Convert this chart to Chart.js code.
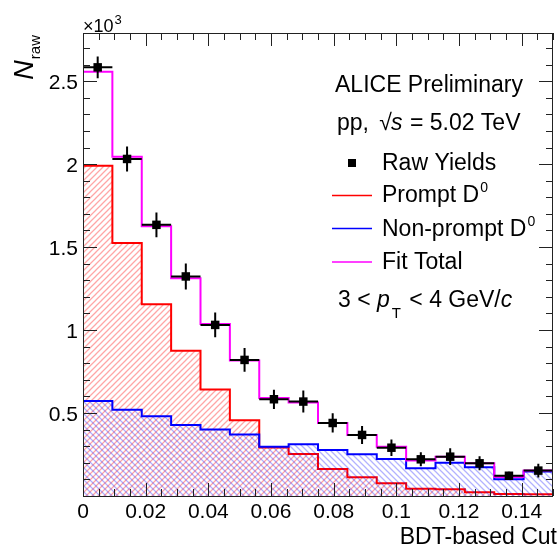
<!DOCTYPE html>
<html>
<head>
<meta charset="utf-8">
<script src="https://cdn.jsdelivr.net/npm/chart.js@4.4.0/dist/chart.umd.min.js"></script>
<style>
  html, body { margin: 0; padding: 0; background: #fff; }
  #wrap { width: 559px; height: 546px; position: relative; }
</style>
</head>
<body>
<div id="wrap"><canvas id="chart" width="559" height="546"></canvas></div>
<script>
// BDT-based cut bins: 16 equal bins between 0 and 0.15
const xMin = 0, xMax = 0.15, nBins = 16;
const rawYields   = [2583, 2031, 1634, 1323, 1031, 820, 583, 569, 440, 368, 291, 221, 237, 197, 122, 153];
const rawErrors   = [65, 75, 75, 78, 75, 72, 58, 66, 58, 54, 50, 42, 50, 42, 24, 42];
const promptD0    = [1990, 1525, 1156, 876, 642, 456, 292, 253, 163, 113, 77, 44, 40, 22, 12, 10];
const nonPromptD0 = [572, 520, 480, 428, 400, 370, 297, 312, 277, 251, 223, 167, 201, 173, 101, 147];
const fitTotal    = [2556, 2044, 1626, 1312, 1036, 816, 590, 563, 440, 368, 297, 214, 237, 197, 114, 153];
const xTicks = [0, 0.02, 0.04, 0.06, 0.08, 0.1, 0.12, 0.14];
const yTicks = [500, 1000, 1500, 2000, 2500];
const yMax = 2790;

const FONT = '"Liberation Sans", Arial, Helvetica, sans-serif';
const binW = (xMax - xMin) / nBins;
const binLow = i => xMin + i * binW;

// histogram as step line: point at each lower edge, plus closing point at xMax
function histPoints(vals) {
  const pts = vals.map((v, i) => ({ x: binLow(i), y: v }));
  pts.push({ x: xMax, y: vals[vals.length - 1] });
  return pts;
}

// hatch tile, "/" when up is true, "\" otherwise
function hatch(color, up) {
  const s = 6;
  const c = document.createElement('canvas');
  c.width = s; c.height = s;
  const g = c.getContext('2d');
  g.strokeStyle = color;
  g.lineWidth = 1.3;
  g.beginPath();
  for (let k = -s; k <= s; k += s) {
    if (up) { g.moveTo(k - 1, s + 1); g.lineTo(k + s + 1, -1); }
    else { g.moveTo(k - 1, -1); g.lineTo(k + s + 1, s + 1); }
  }
  g.stroke();
  return g.createPattern(c, 'repeat');
}

// error bars for raw yields
const errorBars = {
  id: 'errorBars',
  afterDatasetsDraw(chart) {
    const { ctx, scales: { x, y } } = chart;
    ctx.save();
    ctx.strokeStyle = '#000';
    ctx.lineWidth = 2;
    rawYields.forEach((v, i) => {
      const xc = x.getPixelForValue(binLow(i) + binW / 2);
      const yc = y.getPixelForValue(v);
      ctx.beginPath();
      ctx.moveTo(x.getPixelForValue(binLow(i)), yc);
      ctx.lineTo(x.getPixelForValue(binLow(i) + binW), yc);
      ctx.moveTo(xc, y.getPixelForValue(v - rawErrors[i]));
      ctx.lineTo(xc, y.getPixelForValue(v + rawErrors[i]));
      ctx.stroke();
    });
    ctx.restore();
  }
};

// ROOT-like frame with inner ticks, axis titles and legend text
const decorations = {
  id: 'decorations',
  afterDraw(chart) {
    const { ctx, chartArea: a, scales: { x, y } } = chart;
    ctx.save();
    ctx.strokeStyle = '#222';
    ctx.lineWidth = 1;
    ctx.strokeRect(Math.round(a.left) + 0.5, Math.round(a.top) + 0.5,
                   Math.round(a.right - a.left) - 1, Math.round(a.bottom - a.top));
    ctx.beginPath();
    for (let k = 0; k <= 30; k++) {
      const v = k * 0.005;
      const px = Math.round(x.getPixelForValue(v)) + 0.5;
      const len = (k % 4 === 0) ? 13 : 7;
      ctx.moveTo(px, a.bottom); ctx.lineTo(px, a.bottom - len);
      ctx.moveTo(px, a.top); ctx.lineTo(px, a.top + len);
    }
    for (let v = 100; v < yMax; v += 100) {
      const py = Math.round(y.getPixelForValue(v)) + 0.5;
      const len = (v % 500 === 0) ? 14 : 7;
      ctx.moveTo(a.left, py); ctx.lineTo(a.left + len, py);
      ctx.moveTo(a.right, py); ctx.lineTo(a.right - len, py);
    }
    ctx.stroke();

    ctx.fillStyle = '#000';
    ctx.textAlign = 'left';
    ctx.textBaseline = 'alphabetic';

    // x10^3
    ctx.font = '18px ' + FONT;
    ctx.fillText('\u00d710', 83, 32);
    const w10 = ctx.measureText('\u00d710').width;
    ctx.font = '13px ' + FONT;
    ctx.fillText('3', 83 + w10 + 1, 24);

    // x title
    ctx.font = '23px ' + FONT;
    ctx.textAlign = 'right';
    ctx.fillText('BDT-based Cut', 557, 544);

    // y title N_raw (rotated, aligned to top)
    ctx.save();
    ctx.translate(33, 35);
    ctx.rotate(-Math.PI / 2);
    ctx.font = '15px ' + FONT;
    ctx.textAlign = 'right';
    ctx.fillText('raw', 0, 7);
    const wr = ctx.measureText('raw').width;
    ctx.font = 'italic 27px ' + FONT;
    ctx.fillText('N', -wr - 1, 0);
    ctx.restore();

    // legend and labels
    ctx.textAlign = 'left';
    const F = '23px ' + FONT;
    const FI = 'italic 23px ' + FONT;
    const FS = '14px ' + FONT;
    function seq(x0, yb, parts) {
      let xx = x0;
      parts.forEach(p => {
        ctx.font = p[1];
        ctx.fillText(p[0], xx, yb + (p[2] || 0));
        xx += ctx.measureText(p[0]).width + (p[3] || 0);
      });
    }
    seq(335, 91.5, [['ALICE Preliminary', F]]);
    seq(337, 130, [['pp, ', F, 0, 4], ['\u221a', F, 0, -1], ['s', FI, 0, 1], [' = 5.02 TeV', F]]);

    // legend markers
    ctx.fillRect(348, 159, 8, 8);
    seq(382, 170, [['Raw Yields', F]]);
    const lines = [['#ff0000', 195.5, 'Prompt D', 202.3], ['#0000ff', 228.5, 'Non-prompt D', 235.7], ['#ff00ff', 262, 'Fit Total', 269]];
    lines.forEach(l => {
      ctx.strokeStyle = l[0];
      ctx.lineWidth = 1.5;
      ctx.beginPath();
      ctx.moveTo(332, l[1]); ctx.lineTo(372, l[1]);
      ctx.stroke();
      if (l[2] === 'Fit Total') seq(382, l[3], [[l[2], F]]);
      else seq(382, l[3], [[l[2], F, 0, 1], ['0', FS, -10]]);
    });
    seq(338, 307.3, [['3 < ', F], ['p', FI, 0, 2], ['T', '15px ' + FONT, 11, 2], [' < 4 GeV/', F], ['c', FI]]);
    ctx.restore();
  }
};

const ctx = document.getElementById('chart').getContext('2d');
new Chart(ctx, {
  type: 'line',
  data: {
    datasets: [
      {
        label: 'Raw Yields',
        type: 'scatter',
        data: rawYields.map((v, i) => ({ x: binLow(i) + binW / 2, y: v })),
        pointStyle: 'rect',
        pointRadius: 6,
        backgroundColor: '#000',
        borderColor: '#000',
        borderWidth: 0,
        showLine: false
      },
      {
        label: 'Fit Total',
        data: histPoints(fitTotal),
        stepped: 'before',
        borderColor: '#ff00ff',
        borderWidth: 2,
        pointRadius: 0,
        fill: false
      },
      {
        label: 'Non-prompt D0',
        data: histPoints(nonPromptD0),
        stepped: 'before',
        borderColor: '#0000ff',
        borderWidth: 2,
        pointRadius: 0,
        backgroundColor: hatch('rgba(0,0,255,0.3)', false),
        fill: 'origin'
      },
      {
        label: 'Prompt D0',
        data: histPoints(promptD0),
        stepped: 'before',
        borderColor: '#ff0000',
        borderWidth: 2,
        pointRadius: 0,
        backgroundColor: hatch('rgba(255,0,0,0.35)', true),
        fill: 'origin'
      }
    ]
  },
  options: {
    responsive: false,
    animation: false,
    layout: { padding: { top: 33, right: 2, left: 0, bottom: 0 } },
    plugins: { legend: { display: false }, tooltip: { enabled: false } },
    scales: {
      x: {
        type: 'linear',
        min: xMin,
        max: xMax,
        grid: { display: false, drawTicks: false },
        border: { display: false },
        afterBuildTicks: s => { s.ticks = xTicks.map(v => ({ value: v })); },
        afterFit: s => { s.height = 50; },
        ticks: {
          autoSkip: false,
          maxRotation: 0,
          padding: 4,
          color: '#000',
          font: { family: FONT, size: 21 },
          callback: v => String(+v.toFixed(3))
        }
      },
      y: {
        type: 'linear',
        min: 0,
        max: yMax,
        grid: { display: false, drawTicks: false },
        border: { display: false },
        afterBuildTicks: s => { s.ticks = yTicks.map(v => ({ value: v })); },
        afterFit: s => { s.width = 83; },
        ticks: {
          autoSkip: false,
          padding: 5,
          labelOffset: 2,
          color: '#000',
          font: { family: FONT, size: 21 },
          callback: v => String(v / 1000)
        }
      }
    }
  },
  plugins: [errorBars, decorations]
});
</script>
</body>
</html>
